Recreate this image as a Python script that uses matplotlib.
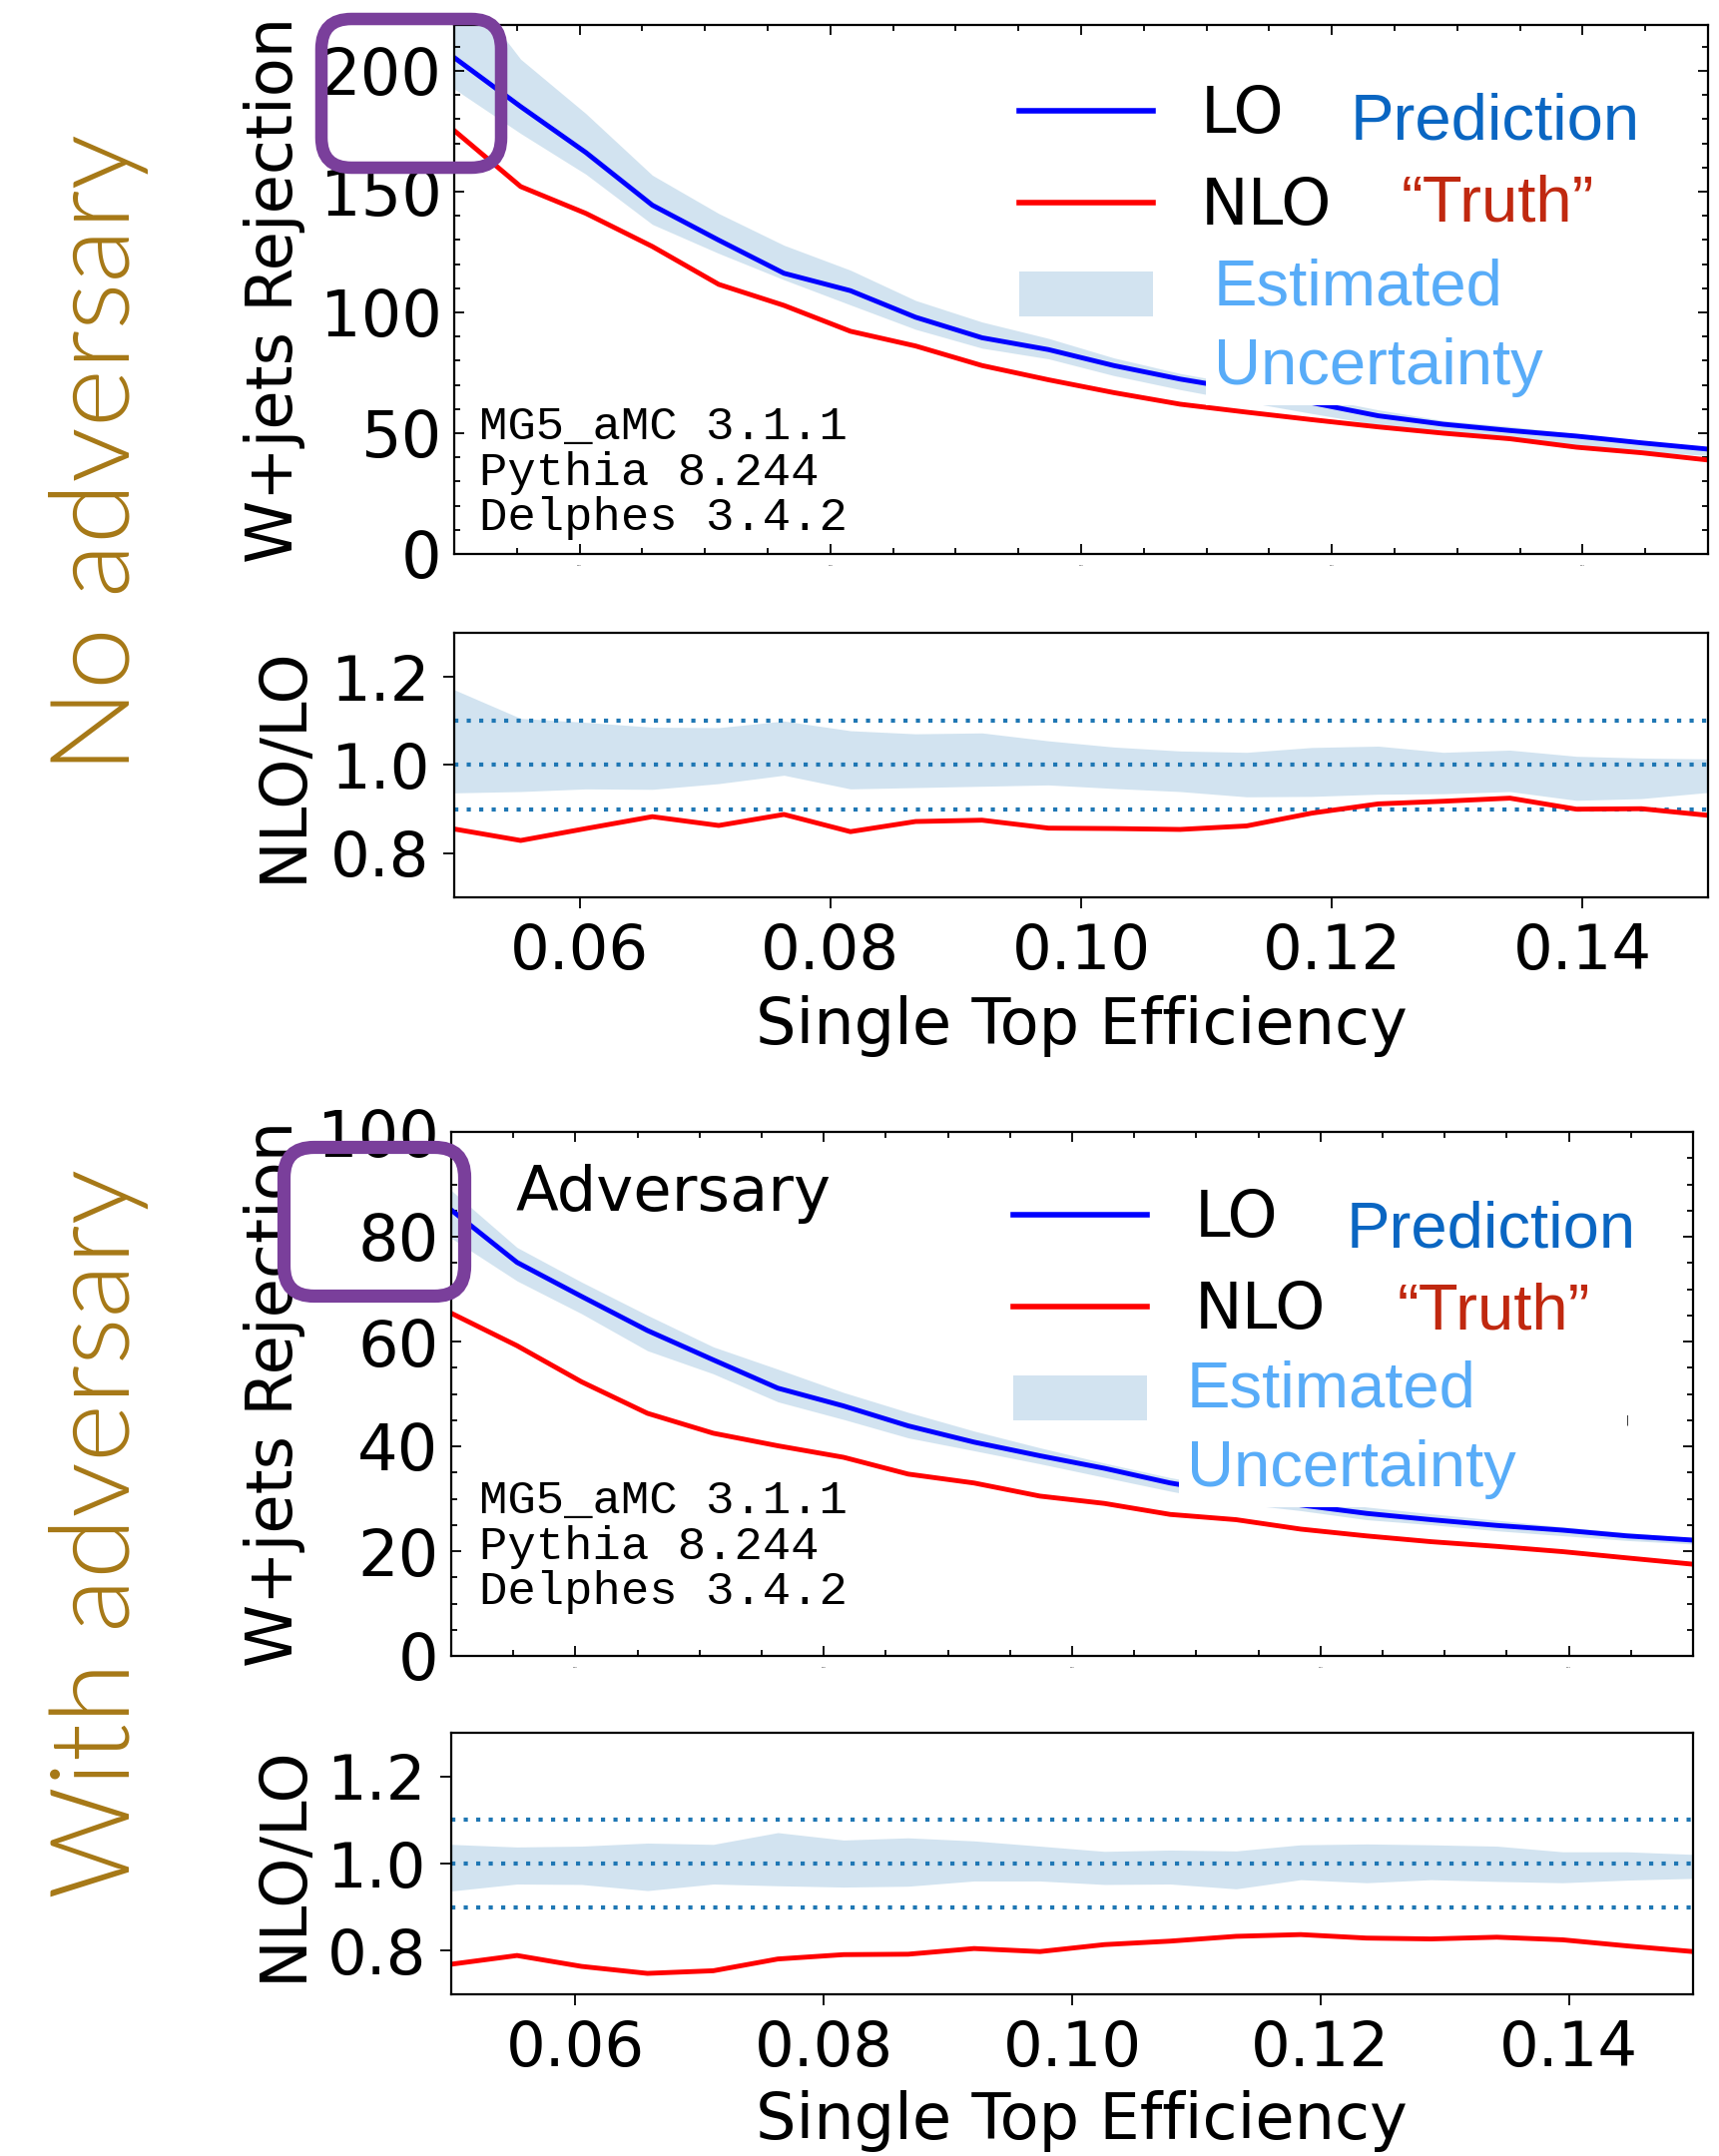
#!/usr/bin/env python3
"""
LO vs NLO W+jets rejection as a function of single top efficiency,
without and with the adversary, each with a NLO/LO ratio panel.
"""
import matplotlib
matplotlib.use('Agg')
import matplotlib.pyplot as plt
from matplotlib.lines import Line2D
from matplotlib.patches import FancyBboxPatch, Patch
from matplotlib.ticker import MultipleLocator, FormatStrFormatter
from matplotlib.transforms import IdentityTransform

W, H = 1722, 2160

# working points (single top efficiency)
eff = [0.0500, 0.0553, 0.0605, 0.0658, 0.0711, 0.0763, 0.0816, 0.0868, 0.0921, 0.0974,
       0.1026, 0.1079, 0.1132, 0.1184, 0.1237, 0.1289, 0.1342, 0.1395, 0.1447, 0.1500]

# --- no adversary ---
lo_noadv  = [205.5, 185.2, 166.2, 144.4, 129.9, 116.2, 109.0, 98.0, 89.5, 84.6,
             78.0, 72.4, 67.8, 62.6, 57.2, 53.7, 51.1, 48.8, 46.0, 43.4]
nlo_noadv = [175.3, 152.1, 141.0, 127.3, 111.6, 102.9, 92.2, 86.1, 78.0, 72.1,
             66.8, 62.0, 58.7, 55.6, 52.6, 50.0, 47.7, 44.2, 41.9, 38.9]
ratio_noadv = [0.855, 0.829, 0.856, 0.883, 0.863, 0.888, 0.849, 0.872, 0.875, 0.857,
               0.856, 0.854, 0.862, 0.891, 0.912, 0.918, 0.925, 0.900, 0.901, 0.886]
unc_hi_noadv = [1.171, 1.106, 1.097, 1.086, 1.085, 1.100, 1.078, 1.071, 1.073, 1.055,
                1.041, 1.032, 1.029, 1.040, 1.043, 1.029, 1.034, 1.020, 1.016, 1.014]
unc_lo_noadv = [0.937, 0.940, 0.946, 0.945, 0.958, 0.977, 0.946, 0.949, 0.952, 0.955,
                0.947, 0.940, 0.928, 0.929, 0.934, 0.935, 0.940, 0.920, 0.924, 0.938]

# --- with adversary ---
lo_adv  = [85.1, 75.1, 68.6, 62.1, 56.5, 51.1, 47.7, 43.9, 40.8, 38.2,
           35.8, 33.0, 30.9, 28.8, 27.2, 26.0, 24.9, 24.0, 22.9, 22.1]
nlo_adv = [65.4, 59.2, 52.3, 46.3, 42.5, 40.1, 37.9, 34.7, 33.0, 30.5,
           29.1, 27.0, 26.0, 24.2, 22.9, 21.8, 20.9, 19.9, 18.7, 17.5]
ratio_adv = [0.769, 0.789, 0.764, 0.748, 0.754, 0.781, 0.791, 0.792, 0.805, 0.798,
             0.814, 0.822, 0.833, 0.837, 0.829, 0.827, 0.831, 0.825, 0.811, 0.798]
unc_hi_adv = [1.044, 1.038, 1.040, 1.047, 1.044, 1.071, 1.054, 1.059, 1.052, 1.040,
              1.028, 1.031, 1.029, 1.043, 1.045, 1.043, 1.040, 1.027, 1.027, 1.021]
unc_lo_adv = [0.937, 0.953, 0.952, 0.938, 0.953, 0.949, 0.946, 0.948, 0.960, 0.960,
              0.952, 0.953, 0.942, 0.963, 0.956, 0.963, 0.959, 0.956, 0.962, 0.966]

ratio_refs = [0.9, 1.0, 1.1]
gen_lines = ['MG5_aMC 3.1.1', 'Pythia 8.244', 'Delphes 3.4.2']

GOLD = '#a67816'
PURPLE = '#7a3f9b'
C_PRED = '#0a66c2'
C_TRUTH = '#c0280f'
C_UNC = '#58acf8'
LW = 3.5


def fx(x):
    return x / W


def fy(y):
    return 1 - y / H


def rect(l, r, t, b):
    return [l / W, 1 - b / H, (r - l) / W, (b - t) / H]


def style_main(ax, ymax, ymajor, yminor):
    ax.set_xlim(0.05, 0.15)
    ax.set_ylim(0, ymax)
    ax.xaxis.set_major_locator(MultipleLocator(0.02))
    ax.xaxis.set_minor_locator(MultipleLocator(0.005))
    ax.yaxis.set_major_locator(MultipleLocator(ymajor))
    ax.yaxis.set_minor_locator(MultipleLocator(yminor))
    ax.tick_params(which='both', direction='in', top=True, right=True, width=1.3)
    ax.tick_params(which='major', length=7)
    ax.tick_params(which='minor', length=4)
    ax.tick_params(axis='y', labelsize=46, pad=9)
    ax.tick_params(axis='x', labelsize=1.5, pad=8)
    for s in ax.spines.values():
        s.set_linewidth(1.6)


def style_ratio(ax):
    ax.set_xlim(0.05, 0.15)
    ax.set_ylim(0.7, 1.3)
    ax.xaxis.set_major_locator(MultipleLocator(0.02))
    ax.yaxis.set_major_locator(MultipleLocator(0.2))
    ax.xaxis.set_major_formatter(FormatStrFormatter('%.2f'))
    ax.yaxis.set_major_formatter(FormatStrFormatter('%.1f'))
    ax.tick_params(which='major', length=8, width=1.3, labelsize=45, pad=10)
    for s in ax.spines.values():
        s.set_linewidth(1.6)


def draw_main(ax, lo, nlo, uhi, ulo):
    band_lo = [l * u for l, u in zip(lo, ulo)]
    band_hi = [l * u for l, u in zip(lo, uhi)]
    ax.fill_between(eff, band_lo, band_hi, color='C0', alpha=0.2, linewidth=0)
    ax.plot(eff, nlo, color='red', lw=LW)
    ax.plot(eff, lo, color='blue', lw=LW)


def draw_ratio(ax, ratio, uhi, ulo):
    ax.fill_between(eff, ulo, uhi, color='C0', alpha=0.2, linewidth=0)
    for r in ratio_refs:
        ax.axhline(r, color='C0', ls=(0, (1, 2)), lw=3)
    ax.plot(eff, ratio, color='red', lw=LW)


fig = plt.figure(figsize=(W / 100, H / 100), dpi=100)

ax1 = fig.add_axes(rect(455, 1711, 25, 555))
ax1r = fig.add_axes(rect(455, 1711, 634, 899))
ax2 = fig.add_axes(rect(452, 1696, 1134, 1659))
ax2r = fig.add_axes(rect(452, 1696, 1736, 1998))

draw_main(ax1, lo_noadv, nlo_noadv, unc_hi_noadv, unc_lo_noadv)
style_main(ax1, 219, 50, 10)
draw_ratio(ax1r, ratio_noadv, unc_hi_noadv, unc_lo_noadv)
style_ratio(ax1r)

draw_main(ax2, lo_adv, nlo_adv, unc_hi_adv, unc_lo_adv)
style_main(ax2, 100, 20, 5)
draw_ratio(ax2r, ratio_adv, unc_hi_adv, unc_lo_adv)
style_ratio(ax2r)

# axis labels as figure text so the purple box can sit over them
for yc, txt in [(290, 'W+jets Rejection'), (766, 'NLO/LO'),
                (1396, 'W+jets Rejection'), (1867, 'NLO/LO')]:
    fig.text(fx(293 if 'W' in txt else 302), fy(yc), txt, fontsize=46,
             rotation=90, rotation_mode='anchor', ha='center', va='baseline',
             zorder=-2)
for yb in [1046, 2143]:
    fig.text(fx(1083), fy(yb), 'Single Top Efficiency', fontsize=46,
             ha='center', va='baseline')

# row labels
for yc, txt in [(454, 'No adversary'), (1536, 'With adversary')]:
    fig.text(fx(100), fy(yc), txt, fontsize=80, color=GOLD, rotation=90,
             ha='center', va='center', family='Lato', fontweight=300)

# legends
handles = [Line2D([], [], color='blue', lw=4), Line2D([], [], color='red', lw=4),
           Patch(facecolor='C0', alpha=0.2)]
for x0, y0 in [(1021, 84), (1015, 1190)]:
    fig.legend(handles, ['LO', 'NLO', ''], loc='upper left',
               bbox_to_anchor=(fx(x0), fy(y0)), bbox_transform=fig.transFigure,
               frameon=False, fontsize=46, handlelength=2.1, handletextpad=0.75,
               labelspacing=0.47, borderpad=0, borderaxespad=0)

# coloured annotations next to the legend
ann_font = dict(family='Liberation Sans', fontsize=47, va='baseline')
for dy, dx in [(0, 0), (1110, -4)]:
    fig.text(fx(1353 + dx), fy(140 + dy), 'Prediction', color=C_PRED, **ann_font)
    fig.text(fx(1404 + dx), fy(222 + dy), '\u201cTruth\u201d', color=C_TRUTH, **ann_font)
for xs, ys in [(1216, 0), (1189, 1104)]:
    fig.text(fx(xs), fy(305 + ys), 'Estimated', color=C_UNC, **ann_font)
    fig.text(fx(xs), fy(385 + ys), 'Uncertainty', color=C_UNC,
             bbox=dict(facecolor='white', edgecolor='none', pad=6), **ann_font)

fig.text(fx(517), fy(1213), 'Adversary', fontsize=45, va='baseline')
fig.text(fx(1630), fy(1426), '|', fontsize=7, ha='center', va='baseline')

# generator versions
for y_first in [440, 1516]:
    for i, line in enumerate(gen_lines):
        fig.text(fx(480), fy(y_first + 45.5 * i), line, family='Liberation Mono',
                 fontsize=34, va='baseline')

# purple highlight boxes (pixel coordinates)
box1 = FancyBboxPatch((322, H - 168), 180, 149,
                      boxstyle='round,pad=0,rounding_size=30',
                      transform=IdentityTransform(), fill=False,
                      edgecolor=PURPLE, linewidth=9, zorder=5)
box2_fill = FancyBboxPatch((284.5, H - 1298.5), 181, 149,
                           boxstyle='round,pad=0,rounding_size=30',
                           transform=IdentityTransform(), facecolor='white',
                           edgecolor='none', zorder=-1)
box2 = FancyBboxPatch((284.5, H - 1298.5), 181, 149,
                      boxstyle='round,pad=0,rounding_size=30',
                      transform=IdentityTransform(), fill=False,
                      edgecolor=PURPLE, linewidth=9.5, zorder=5)
for p in (box1, box2_fill, box2):
    fig.add_artist(p)

fig.savefig('out.png', dpi=100)
